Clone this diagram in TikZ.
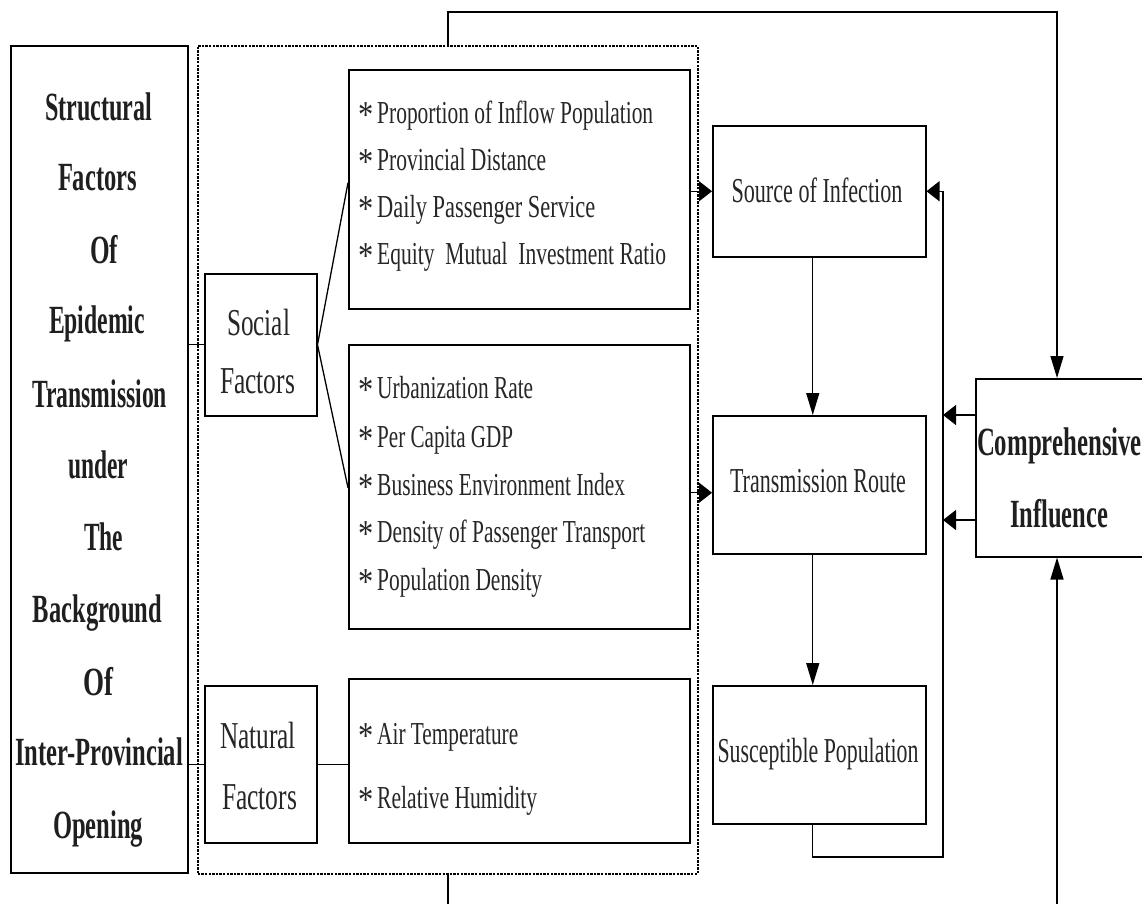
\documentclass[tikz,border=0pt]{standalone}
\usepackage{fontspec}
\setmainfont{Liberation Serif}
\usepackage{graphicx}
\usetikzlibrary{arrows.meta}
\newcommand\fw[2]{\resizebox{#1pt}{\height}{#2}}
\newcommand\stb{\makebox[19pt][l]{\raisebox{-4pt}{\fontsize{38}{38}\selectfont\scalebox{0.8}[1]{*}}}}
\tikzset{
  box/.style={draw, line width=1.5pt, inner sep=0pt, anchor=north west},
  conn/.style={line width=1.3pt},
  harr/.style={conn, -{Triangle[length=13pt,width=20pt]}},
  varr/.style={conn, -{Triangle[length=22pt,width=13pt]}},
  bigt/.style={anchor=base, inner sep=0pt, text=black!88, font=\fontsize{40}{40}\selectfont\bfseries},
  midt/.style={anchor=base, inner sep=0pt, text=black!85, font=\fontsize{38}{38}\selectfont},
  labt/.style={anchor=base, inner sep=0pt, text=black!85, font=\fontsize{35}{35}\selectfont},
  item/.style={anchor=base west, inner sep=0pt, text=black!85, font=\fontsize{32}{32}\selectfont},
}
\begin{document}
\begin{tikzpicture}[x=1pt,y=-1pt]
\useasboundingbox (0,0) rectangle (1142,903);
\clip (0,0) rectangle (1142,903);
% boxes
\node[box, minimum width=177pt, minimum height=827pt] (big) at (10,45) {};
\node[draw, dash pattern=on 2.4pt off 1.2pt, line width=1.6pt, inner sep=0pt, anchor=north west,
      minimum width=500pt, minimum height=828pt] (dash) at (197,45) {};
\node[box, minimum width=112pt, minimum height=142pt] (social) at (204,273) {};
\node[box, minimum width=112pt, minimum height=157pt] (natural) at (204,685) {};
\node[box, minimum width=341pt, minimum height=239pt] (list1) at (348,69) {};
\node[box, minimum width=341pt, minimum height=284pt] (list2) at (348,344) {};
\node[box, minimum width=341pt, minimum height=164pt] (list3) at (348,678) {};
\node[box, minimum width=213pt, minimum height=131pt] (source) at (712,125) {};
\node[box, minimum width=213pt, minimum height=138pt] (trans) at (712,415) {};
\node[box, minimum width=213pt, minimum height=138pt] (susc) at (712,685) {};
\node[box, minimum width=180pt, minimum height=178pt] (comp) at (975,378) {};

% big box text
\foreach \x/\y/\w/\t [count=\i] in {98.5/120/107/Structural, 97.5/190/79/Factors,
  104/263/28/Of, 97/333/96/Epidemic, 99.5/407/135/Transmission, 98/478/60/under,
  103.5/550/39/The, 97.5/622/129/Background, 98/695/30/Of,
  99/765/168/Inter-Provincial, 98/838/90/Opening}
  \node[bigt] (bt\i) at (\x,\y) {\fw{\w}{\t}};

% social / natural
\node[midt] (s1) at (258.5,335) {\fw{63}{Social}};
\node[midt] (s2) at (257.5,393) {\fw{75}{Factors}};
\node[midt] (n1) at (258,748) {\fw{76}{Natural}};
\node[midt] (n2) at (259.5,809) {\fw{75}{Factors}};

% lists
\node[item] (a1) at (358,123) {\stb\fw{276}{Proportion of Inflow Population}};
\node[item] (a2) at (358,170) {\stb\fw{169}{Provincial Distance}};
\node[item] (a3) at (358,217) {\stb\fw{218}{Daily Passenger\ Service}};
\node[item] (a4) at (358,264) {\stb\fw{289}{Equity~ Mutual~ Investment Ratio}};
\node[item] (b1) at (358,398) {\stb\fw{156}{Urbanization Rate}};
\node[item] (b2) at (358,447) {\stb\fw{136}{Per Capita GDP}};
\node[item] (b3) at (358,495) {\stb\fw{248}{Business Environment Index}};
\node[item] (b4) at (358,542) {\stb\fw{268}{Density of Passenger Transport}};
\node[item] (b5) at (358,590) {\stb\fw{165}{Population Density}};
\node[item] (c1) at (358,744) {\stb\fw{141}{Air Temperature}};
\node[item] (c2) at (358,808) {\stb\fw{160}{Relative Humidity}};

% right boxes text
\node[labt] (st) at (817,202) {\fw{171}{Source of Infection}};
\node[labt] (tt) at (818,492) {\fw{176}{Transmission Route}};
\node[labt] (ut) at (818,762) {\fw{201}{Susceptible Population}};
\node[bigt] (ct1) at (1059.5,455) {\fw{165}{Comprehensive}};
\node[bigt] (ct2) at (1059,527) {\fw{98}{Influence}};

% connectors on the left
\draw[conn] (big.east |- social.west) -- (social.west);
\draw[conn] (big.east |- natural.west) -- (natural.west);
\draw[conn] (social.east) -- ([yshift=6.5pt]list1.west);
\draw[conn] (social.east) -- ([yshift=-1pt]list2.west);
\draw[conn] (natural.east) -- (list3.west |- natural.east);

% into the chain
\draw[harr] (list1.east |- source.west) -- (source.west);
\draw[harr] ([yshift=-8pt]list2.east |- trans.west) -- ([yshift=-8pt]trans.west);
\draw[varr] ([xshift=-6.5pt]source.south) -- ([xshift=-6.5pt]trans.north);
\draw[varr] ([xshift=-6.5pt]trans.south) -- ([xshift=-6.5pt]susc.north);

% feedback loop
\coordinate (fb) at (943,857);
\draw[harr] ([xshift=-6.5pt]susc.south) |- (fb) |- (source.east);
\coordinate (r1) at (943,415);
\coordinate (r2) at (943,520);
\draw[harr] (comp.west |- r1) -- (r1);
\draw[harr] (comp.west |- r2) -- (r2);

% outer connectors
\coordinate (tl) at (448,12);
\coordinate (tr) at (1057,12);
\draw[varr] (dash.north -| tl) -- (tl) -- (tr) -- (comp.north -| tr);
\coordinate (bl) at (448,906);
\coordinate (br) at (1057,906);
\draw[conn] (dash.south -| bl) -- (bl);
\draw[varr] (br) -- (comp.south -| br);
\end{tikzpicture}
\end{document}
